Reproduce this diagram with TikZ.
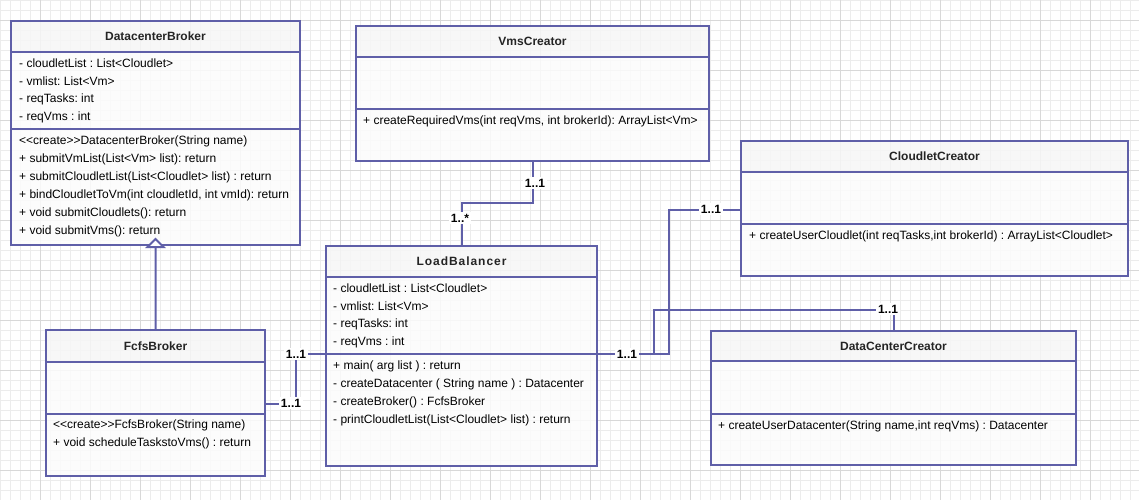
\documentclass[tikz,border=0pt]{standalone}
\usepackage{fontspec}
\setmainfont{Liberation Sans}
\frenchspacing
\usetikzlibrary{positioning}
\definecolor{umlline}{RGB}{95,95,168}
\definecolor{headfill}{RGB}{246,246,246}
\definecolor{bodyfill}{RGB}{252,252,252}
\definecolor{gridminor}{RGB}{236,236,236}
\definecolor{gridmajor}{RGB}{216,216,216}

\begin{document}
\begin{tikzpicture}[x=1bp,y=-1bp,
    part/.style={draw=umlline, line width=2bp, inner sep=0pt, outer sep=0pt, fill opacity=0.85},
    head/.style={part, fill=headfill, font=\bfseries\fontsize{12bp}{14bp}\selectfont},
    body/.style={part, fill=bodyfill},
    member/.style={anchor=west, inner sep=0pt, font=\fontsize{12bp}{14bp}\selectfont},
    assoc/.style={draw=umlline, line width=2bp},
    mult/.style={fill=white, inner sep=2bp, font=\bfseries\fontsize{12bp}{14bp}\selectfont}]

      \useasboundingbox (0,0) rectangle (1139,500);
      \draw[gridminor, line width=0.5bp] (0,0) grid[step=10bp] (1139,500);
      \draw[gridmajor, line width=0.5bp, xshift=40bp, yshift=-20bp] (-40,-20) grid[step=50bp] (1099,480);

      % DatacenterBroker
      \node[head, anchor=north west, minimum width=289bp, minimum height=31bp] (dbhead) at (11,21) {DatacenterBroker};
      \node[body, below=0pt of dbhead, minimum width=289bp, minimum height=77bp] (dbattr) {};
      \node[body, below=0pt of dbattr, minimum width=289bp, minimum height=116bp] (dbops) {};
      \node[member] (dba1) at (19,63) {- cloudletList : List<Cloudlet>};
      \node[member] (dba2) at (19,81) {- vmlist: List<Vm>};
      \node[member] (dba3) at (19,99) {- reqTasks: int};
      \node[member] (dba4) at (19,117) {- reqVms : int};
      \node[member] (dbo1) at (19,141) {<{}<create>{}>DatacenterBroker(String name)};
      \node[member] (dbo2) at (19,159) {+ submitVmList(List<Vm> list): return};
      \node[member] (dbo3) at (19,177) {+ submitCloudletList(List<Cloudlet> list) : return};
      \node[member] (dbo4) at (19,195) {+ bindCloudletToVm(int cloudletId, int vmId): return};
      \node[member] (dbo5) at (19,213) {+ void submitCloudlets(): return};
      \node[member] (dbo6) at (19,231) {+ void submitVms(): return};

      % FcfsBroker
      \node[head, anchor=north west, minimum width=219bp, minimum height=32bp] (fbhead) at (46,330) {FcfsBroker};
      \node[body, below=0pt of fbhead, minimum width=219bp, minimum height=52bp] (fbattr) {};
      \node[body, below=0pt of fbattr, minimum width=219bp, minimum height=62bp] (fbops) {};
      \node[member] (fbo1) at (53,425) {<{}<create>{}>FcfsBroker(String name)};
      \node[member] (fbo2) at (53,443) {+ void scheduleTaskstoVms() : return};

      % LoadBalancer
      \node[head, anchor=north west, minimum width=271bp, minimum height=31bp] (lbhead) at (326,246) {\addfontfeature{LetterSpace=8}LoadBalancer};
      \node[body, below=0pt of lbhead, minimum width=271bp, minimum height=77bp] (lbattr) {};
      \node[body, below=0pt of lbattr, minimum width=271bp, minimum height=112bp] (lbops) {};
      \node[member] (lba1) at (333,288) {- cloudletList : List<Cloudlet>};
      \node[member] (lba2) at (333,306) {- vmlist: List<Vm>};
      \node[member] (lba3) at (333,324) {- reqTasks: int};
      \node[member] (lba4) at (333,342) {- reqVms : int};
      \node[member] (lbo1) at (333,366) {+ main( arg list ) : return};
      \node[member] (lbo2) at (333,384) {- createDatacenter ( String name ) : Datacenter};
      \node[member] (lbo3) at (333,402) {- createBroker() : FcfsBroker};
      \node[member] (lbo4) at (333,420) {- printCloudletList(List<Cloudlet> list) : return};

      % VmsCreator
      \node[head, anchor=north west, minimum width=353bp, minimum height=31bp] (vchead) at (356,26) {VmsCreator};
      \node[body, below=0pt of vchead, minimum width=353bp, minimum height=52bp] (vcattr) {};
      \node[body, below=0pt of vcattr, minimum width=353bp, minimum height=52bp] (vcops) {};
      \node[member] (vco1) at (363,121) {+ createRequiredVms(int reqVms, int brokerId): ArrayList<Vm>};

      % CloudletCreator
      \node[head, anchor=north west, minimum width=387bp, minimum height=31bp] (cchead) at (741,141) {CloudletCreator};
      \node[body, below=0pt of cchead, minimum width=387bp, minimum height=52bp] (ccattr) {};
      \node[body, below=0pt of ccattr, minimum width=387bp, minimum height=52bp] (ccops) {};
      \node[member] (cco1) at (749,236) {+ createUserCloudlet(int reqTasks,int brokerId) : ArrayList<Cloudlet>};

      % DataCenterCreator
      \node[head, anchor=north west, minimum width=365bp, minimum height=30bp] (dcchead) at (711,331) {DataCenterCreator};
      \node[body, below=0pt of dcchead, minimum width=365bp, minimum height=53bp] (dccattr) {};
      \node[body, below=0pt of dccattr, minimum width=365bp, minimum height=51bp] (dccops) {};
      \node[member] (dcco1) at (718,426) {+ createUserDatacenter(String name,int reqVms) : Datacenter};

      % connectors
      \draw[assoc] (fbhead.north) -- ([yshift=-2bp]dbops.south);
      \draw[assoc, fill=white, line join=miter] ([yshift=6bp]dbops.south) -- ([xshift=8bp,yshift=-2bp]dbops.south) -- ([xshift=-8bp,yshift=-2bp]dbops.south) -- cycle;
      \draw[assoc] (vcops.south) -- ++(0,42) -| (lbhead.north);
      \draw[assoc] ([yshift=-12bp]ccattr.west) -- ++(-72,0) |- (lbops.north east);
      \draw[assoc] (dcchead.north) -- ++(0,-21) -- ++(-240,0) |- (lbops.north east);
      \draw[assoc] ([yshift=-16bp]fbattr.east) -- ++(31,0) |- (lbops.north west);

      % multiplicities
      \node[mult] (m1) at (535,183) {1..1};
      \node[mult] (m2) at (460,218) {1..*};
      \node[mult] (m3) at (711,209) {1..1};
      \node[mult] (m4) at (888,309) {1..1};
      \node[mult] (m5) at (627,354) {1..1};
      \node[mult] (m6) at (296,354) {1..1};
      \node[mult] (m7) at (291,403) {1..1};
\end{tikzpicture}
\end{document}
